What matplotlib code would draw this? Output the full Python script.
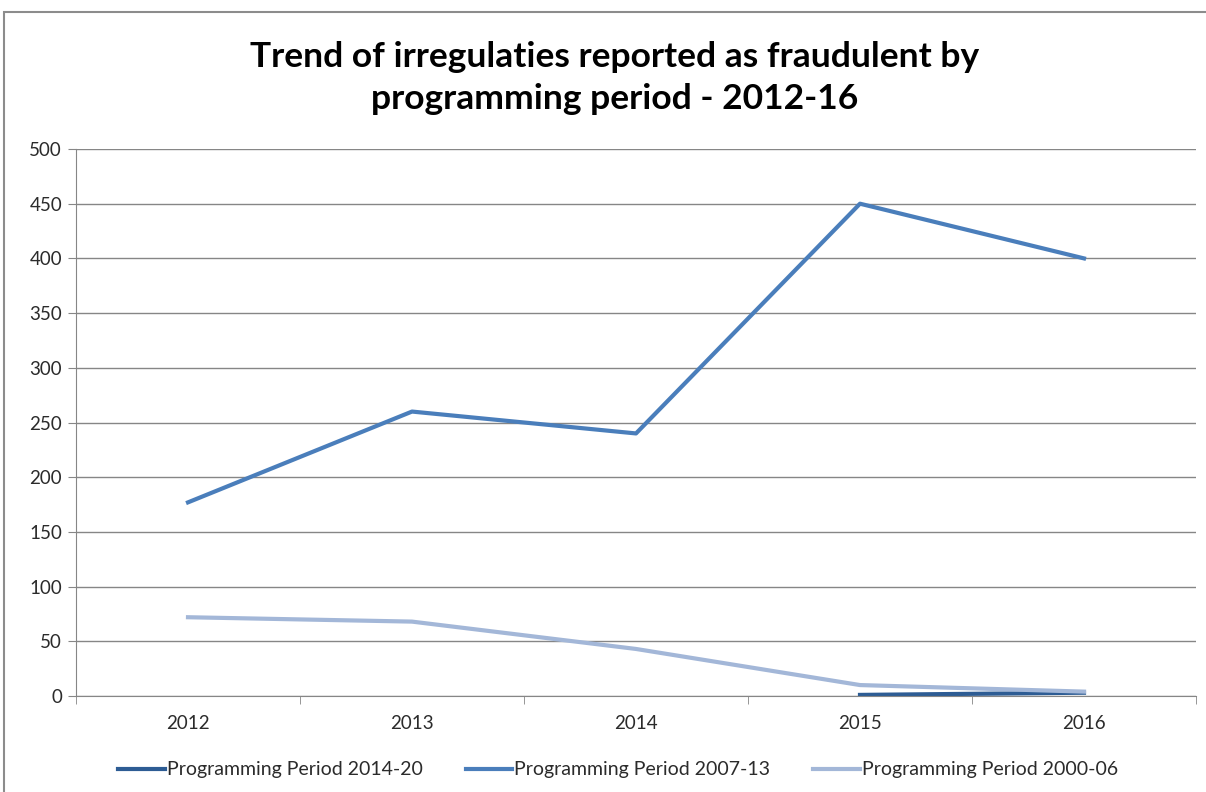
import numpy as np
import matplotlib
matplotlib.use('Agg')
import matplotlib.pyplot as plt
from matplotlib.patches import Rectangle

# data
years = ['2012', '2013', '2014', '2015', '2016']
pp_2014_20 = [np.nan, np.nan, np.nan, 1, 3]
pp_2007_13 = [177, 260, 240, 450, 400]
pp_2000_06 = [72, 68, 43, 10, 4]

plt.rcParams['font.family'] = ['Lato', 'DejaVu Sans']

fig = plt.figure(figsize=(12.06, 7.92), dpi=100)
ax = fig.add_axes([76/1206, 1-696/792, (1196-76)/1206, (696-149)/792])

# outer border of the chart box
fig.patches.append(Rectangle((4/1206, -0.01), 1.1, 1-12/792+0.01, transform=fig.transFigure,
                             fill=False, edgecolor='#8c8c8c', linewidth=1.5))

x = np.arange(len(years))
ax.plot(x, pp_2014_20, color='#2d5c94', lw=3, label='Programming Period 2014-20')
ax.plot(x, pp_2007_13, color='#4a7ebb', lw=3, label='Programming Period 2007-13')
ax.plot(x, pp_2000_06, color='#a3b7d8', lw=3, label='Programming Period 2000-06')

ax.set_xlim(-0.5, 4.5)
ax.set_ylim(0, 500)
ax.set_yticks(range(0, 501, 50))
ax.set_xticks(x)
ax.set_xticklabels(years)
ax.set_xticks(np.arange(-0.5, 4.6, 1), minor=True)
ax.tick_params(axis='x', which='major', length=0, pad=14, labelsize=13.5, colors='#2b2b2b')
ax.tick_params(axis='x', which='minor', length=6, color='#868686', direction='out')
ax.tick_params(axis='y', length=6, color='#868686', labelsize=13.5, colors='#2b2b2b', pad=4)
ax.yaxis.grid(True, color='#868686', lw=1)
ax.set_axisbelow(True)
for s in ['top', 'right']:
    ax.spines[s].set_visible(False)
ax.spines['left'].set_color('#868686')
ax.spines['bottom'].set_color('#868686')

fig.text(0.51, 1-78/792, 'Trend of irregulaties reported as fraudulent by\nprogramming period - 2012-16',
         ha='center', va='center', fontsize=25.5, fontweight='bold', linespacing=1.4,
         family=['Liberation Sans Narrow', 'Lato', 'DejaVu Sans'])

ax.legend(loc='center', bbox_to_anchor=(0.484, -0.135), ncol=3, frameon=False,
          fontsize=14, handlelength=2.4, handletextpad=0.1, columnspacing=2.2,
          labelcolor='#2b2b2b')

fig.savefig('out.png', dpi=100)
